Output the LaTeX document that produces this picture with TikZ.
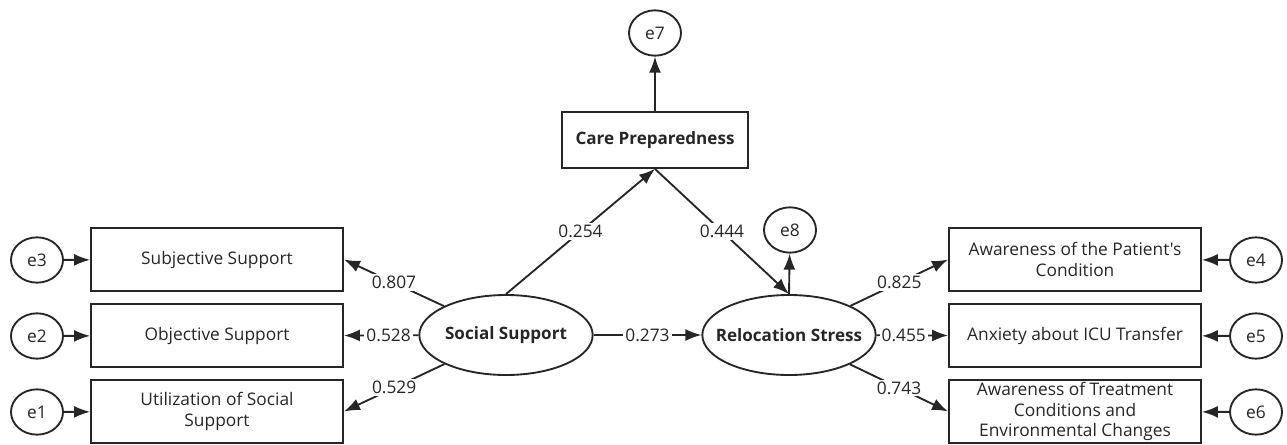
\documentclass[tikz,border=0pt]{standalone}
\usepackage{fontspec}
\newfontfamily\semfont{Open Sans}
\usetikzlibrary{arrows.meta, shapes.geometric}
\definecolor{lc}{HTML}{262626}
\definecolor{tc}{HTML}{262626}
\tikzset{>={Latex[length=12pt,width=9pt]}}
\tikzstyle{obs} = [draw=lc, line width=1.4pt, rectangle, minimum width=189pt, minimum height=47pt, inner ysep=0pt, align=center, text=tc, font=\semfont\fontsize{13}{15.5}\selectfont]
\tikzstyle{latent} = [draw=lc, line width=1.4pt, ellipse, minimum width=130pt, minimum height=60pt, inner xsep=-12pt, inner ysep=0pt, text=tc, font=\semfont\bfseries\fontsize{12.8}{15}\selectfont]
\tikzstyle{med} = [draw=lc, line width=1.4pt, rectangle, minimum width=140pt, minimum height=42pt, text=tc, font=\semfont\bfseries\fontsize{12.8}{15}\selectfont]
\tikzstyle{err} = [draw=lc, line width=1.4pt, ellipse, minimum width=39pt, minimum height=34pt, inner sep=0pt, text=tc, font=\semfont\fontsize{13}{15}\selectfont]
\tikzstyle{path} = [->, draw=lc, line width=1.4pt]
\tikzstyle{coef} = [fill=white, inner sep=1.5pt, text=tc, font=\semfont\fontsize{13}{15}\selectfont]

\begin{document}
\begin{tikzpicture}[x=0.75pt, y=-0.75pt]
		\useasboundingbox (0,0) rectangle (1287,445);
		
		% Latent variables
		\node[latent] (ss) at (506,335) {Social Support};
		\node[latent] (rs) at (789,335) {Relocation Stress};
		\node[med] (cp) at (655,140) {Care Preparedness};
		
		% Indicators
		%% Social support
		\node[obs] (sub) at (217,259.5) {Subjective Support};
		\node[obs] (obj) at (217,335.5) {Objective Support};
		\node[obs] (uti) at (217,411.5) {Utilization of Social\\Support};
		%% Relocation stress
		\node[obs] (awp) at (1075,259.5) {Awareness of the Patient's\\Condition};
		\node[obs] (anx) at (1075,335.5) {Anxiety about ICU Transfer};
		\node[obs] (awt) at (1075,411.5) {Awareness of Treatment\\Conditions and\\Environmental Changes};
		
		% Residuals
		\node[err] (e3) at (37,260) {e3};
		\node[err] (e2) at (37,336) {e2};
		\node[err] (e1) at (37,412) {e1};
		\node[err] (e4) at (1256,260) {e4};
		\node[err] (e5) at (1256,336) {e5};
		\node[err] (e6) at (1256,412) {e6};
		\node[err] (e7) at (655,33) {e7};
		\node[err] (e8) at (790,230) {e8};
		
		% Loadings
		\draw[path] (ss) -- node[coef] {0.807} (sub.east);
		\draw[path] (ss) -- node[coef, pos=0.4] {0.528} (obj.east);
		\draw[path] (ss) -- node[coef] {0.529} (uti.east);
		\draw[path] (rs) -- node[coef] {0.825} (awp.west);
		\draw[path] (rs) -- node[coef, pos=0.38] {0.455} (anx.west);
		\draw[path] (rs) -- node[coef] {0.743} (awt.west);
		
		% Structural paths
		\draw[path] (ss.north) -- node[coef] {0.254} (cp.south);
		\draw[path] (cp.south) -- node[coef] {0.444} (rs.north);
		\draw[path] (ss) -- node[coef] {0.273} (rs);
		
		% Error terms
		\draw[path] (e3) -- (sub);
		\draw[path] (e2) -- (obj);
		\draw[path] (e1) -- (uti);
		\draw[path] (e4) -- (awp);
		\draw[path] (e5) -- (anx);
		\draw[path] (e6) -- (awt);
		\draw[path] (cp) -- (e7);
		\draw[path] (rs.north) -- (e8);
	\end{tikzpicture}
\end{document}
